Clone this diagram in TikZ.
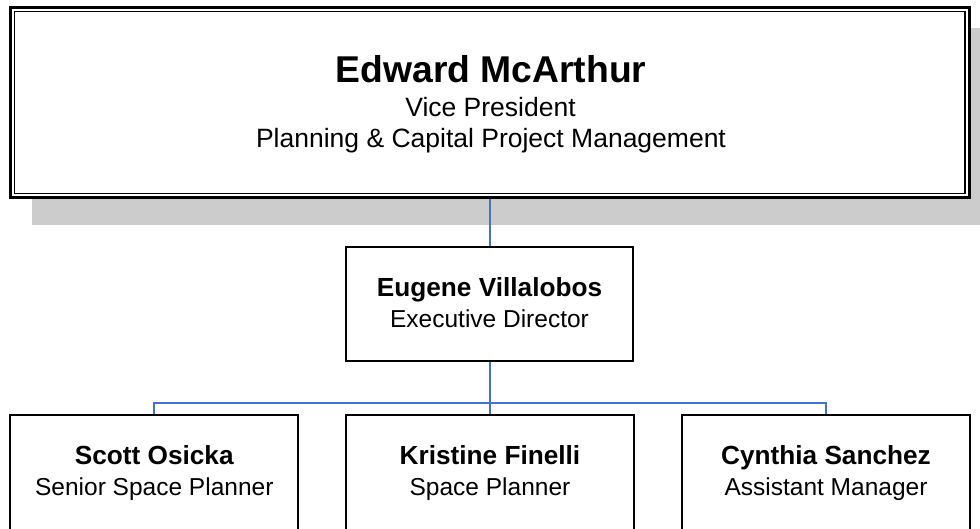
\documentclass[tikz,border=0pt]{standalone}
\usepackage{fontspec}
\setmainfont{Liberation Sans}
\usetikzlibrary{calc}
\definecolor{shadowgray}{HTML}{CCCCCC}
\definecolor{connblue}{HTML}{4472C4}
\tikzset{
  orgbox/.style={draw=black, fill=white, line width=2pt, inner sep=0pt, minimum width=288pt},
  conn/.style={draw=connblue, line width=2pt},
  bigname/.style={anchor=base, font=\fontsize{37.3}{40}\selectfont\bfseries},
  bigtitle/.style={anchor=base, font=\fontsize{26.5}{30}\selectfont},
  pname/.style={anchor=base, font=\fontsize{26.2}{30}\selectfont\bfseries},
  ptitle/.style={anchor=base, font=\fontsize{24.5}{30}\selectfont},
}
\begin{document}
\begin{tikzpicture}[x=1pt,y=-1pt]
\useasboundingbox (0,0) rectangle (980,529);
% shadow of top box
\node[fill=shadowgray, inner sep=0pt, minimum width=963pt, minimum height=197pt] (shadow) at (513.5,126.5) {};
% top box
\node[draw=black, fill=white, line width=3pt, inner sep=0pt, minimum width=958.5pt, minimum height=190pt] (vp) at (489.75,102.5) {};
\draw[line width=1.3pt] ($(vp.north west)+(5.5,5.5)$) rectangle ($(vp.south east)+(-5.5,-5.5)$);
\node[bigname] (vpname) at (491,83) {Edward McArthur};
\node[bigtitle] (vptitle) at (490.5,117) {Vice President};
\node[bigtitle] (vpdept) at (491,148) {Planning \& Capital Project Management};
% middle box
\node[orgbox, minimum width=287pt, minimum height=113pt] (mid) at (489.5,304) {};
\node[pname] (midname) at (489.5,297) {Eugene Villalobos};
\node[ptitle] (midtitle) at (489.5,328) {Executive Director};
% bottom boxes
\node[orgbox, minimum height=117pt] (s1) at (154.3,473.5) {};
\node[orgbox, minimum height=117pt] (s2) at (490,473.5) {};
\node[orgbox, minimum height=117pt] (s3) at (826,473.5) {};
\node[pname] (s1name) at (154.3,464) {Scott Osicka};
\node[ptitle] (s1title) at (154.3,495.5) {Senior Space Planner};
\node[pname] (s2name) at (490,464) {Kristine Finelli};
\node[ptitle] (s2title) at (490,495.5) {Space Planner};
\node[pname] (s3name) at (826,464) {Cynthia Sanchez};
\node[ptitle] (s3title) at (826,495.5) {Assistant Manager};
% connectors
\coordinate (bus) at (490,403);
\draw[conn] (vp.south -| mid.north) -- (mid.north);
\draw[conn] (mid.south) -- (mid.south |- bus);
\draw[conn] (s1.north) -- (s1.north |- bus) -- (s3.north |- bus) -- (s3.north);
\draw[conn] (s2.north |- bus) -- (s2.north);
\end{tikzpicture}
\end{document}
